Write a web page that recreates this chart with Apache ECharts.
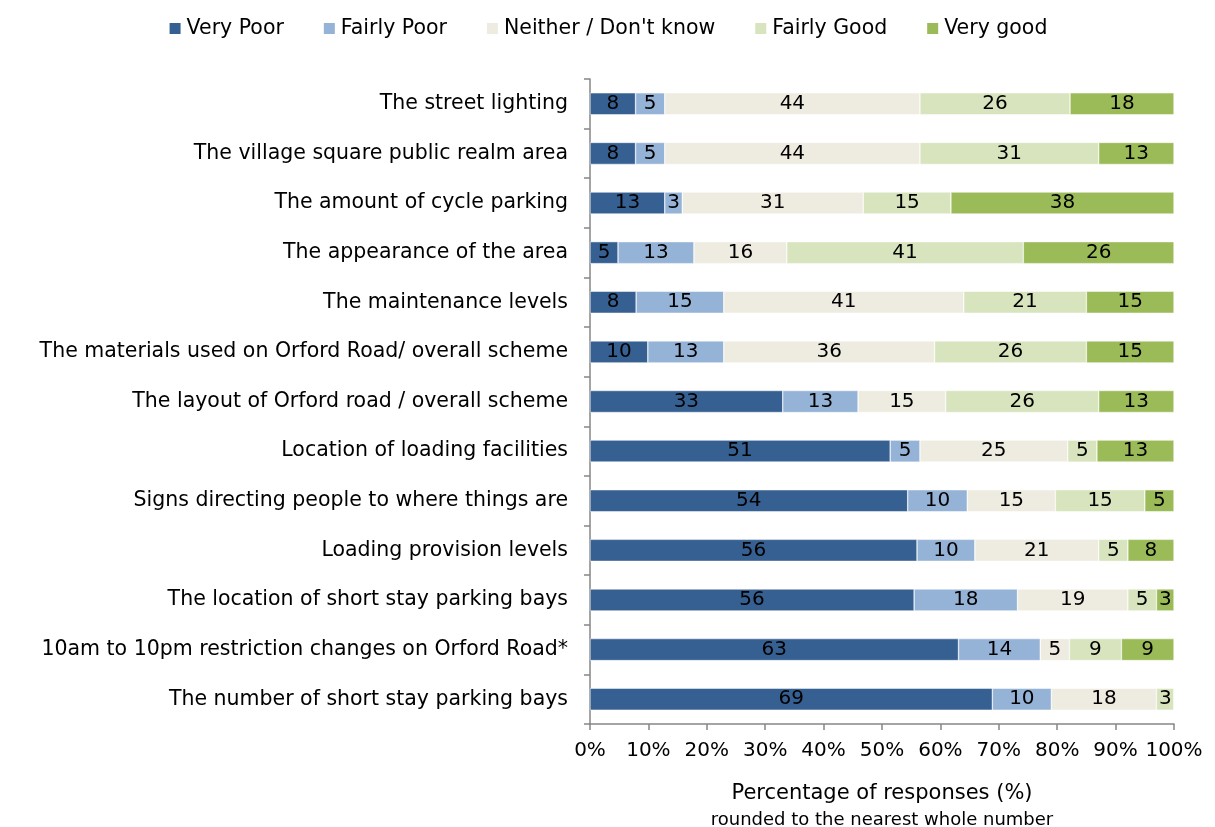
<!DOCTYPE html>
<html>
<head>
<meta charset="utf-8">
<script src="https://cdn.jsdelivr.net/npm/echarts@6/dist/echarts.min.js"></script>
<style>
html,body{margin:0;padding:0;background:#fff;}
#chart{width:1215px;height:827px;}
</style>
</head>
<body>
<div id="chart"></div>
<script>
const categories = [
  "The street lighting",
  "The village square public realm area",
  "The amount of cycle parking",
  "The appearance of the area",
  "The maintenance levels",
  "The materials used on Orford Road/ overall scheme",
  "The layout of Orford road / overall scheme",
  "Location of loading facilities",
  "Signs directing people to where things are",
  "Loading provision levels",
  "The location of short stay parking bays",
  "10am to 10pm restriction changes on Orford Road*",
  "The number of short stay parking bays"
];
const seriesNames = ["Very Poor", "Fairly Poor", "Neither / Don't know", "Fairly Good", "Very good"];
const veryPoor   = [7.8, 7.8, 12.8, 4.8, 7.9, 9.9, 33.0, 51.4, 54.4, 56.0, 55.5, 63.1, 68.9];
const fairlyPoor = [5.0, 5.0, 3.0, 13.0, 15.0, 13.0, 12.9, 5.1, 10.2, 9.9, 17.7, 14.0, 10.1];
const neither    = [43.7, 43.7, 31.0, 15.9, 41.1, 36.1, 15.0, 25.3, 15.1, 21.2, 18.9, 5.0, 18.0];
const fairlyGood = [25.7, 30.6, 15.0, 40.5, 21.0, 26.0, 26.2, 5.0, 15.3, 5.0, 4.9, 8.9, 3.0];
const veryGood   = [17.8, 12.9, 38.2, 25.8, 15.0, 15.0, 12.9, 13.2, 5.0, 7.9, 3.0, 9.0, 0];
const xTicks = [0, 10, 20, 30, 40, 50, 60, 70, 80, 90, 100];
const colors = ["#376092", "#95B3D7", "#EEECE1", "#D7E4BD", "#9BBB59"];
const FONT = "DejaVu Sans";

const allData = [veryPoor, fairlyPoor, neither, fairlyGood, veryGood];
const chart = echarts.init(document.getElementById('chart'));
chart.setOption({
  animation: false,
  textStyle: { fontFamily: FONT },
  legend: {
    top: 13,
    left: 'center',
    itemWidth: 13,
    itemHeight: 13,
    itemGap: 38,
    icon: 'rect',
    textStyle: { fontFamily: FONT, fontSize: 20.5, color: '#000' },
    data: seriesNames
  },
  grid: { left: 590, right: 41, top: 79, bottom: 103, containLabel: false, outerBoundsMode: 'none' },
  xAxis: {
    type: 'value',
    min: xTicks[0],
    max: xTicks[xTicks.length - 1],
    interval: 10,
    axisLine: { show: true, lineStyle: { color: '#868686', width: 1.5 } },
    axisTick: { show: true, length: 6, lineStyle: { color: '#868686', width: 1.5 } },
    splitLine: { show: false },
    axisLabel: { formatter: '{value}%', fontFamily: FONT, fontSize: 20, color: '#000', margin: 17 },
    name: '{a|Percentage of responses (%)}\n{b|rounded to the nearest whole number}',
    nameLocation: 'middle',
    nameGap: 56,
    nameTextStyle: {
      rich: {
        a: { fontFamily: FONT, fontSize: 21, color: '#000', lineHeight: 28 },
        b: { fontFamily: FONT, fontSize: 18, color: '#000', lineHeight: 24 }
      }
    }
  },
  yAxis: {
    type: 'category',
    inverse: true,
    data: categories,
    axisLine: { show: true, lineStyle: { color: '#868686', width: 1.5 } },
    axisTick: { show: true, length: 6, lineStyle: { color: '#868686', width: 1.5 } },
    axisLabel: { fontFamily: FONT, fontSize: 20.5, color: '#000', margin: 22 }
  },
  series: allData.map((d, i) => ({
    name: seriesNames[i],
    type: 'bar',
    stack: 'total',
    barWidth: 22,
    data: d,
    itemStyle: { color: colors[i], borderColor: '#fff', borderWidth: 0.5 },
    label: {
      show: true,
      position: 'inside',
      fontFamily: FONT,
      fontSize: 20,
      color: '#000',
      formatter: p => p.value > 0 ? String(Math.round(p.value)) : ''
    }
  }))
});
</script>
</body>
</html>
